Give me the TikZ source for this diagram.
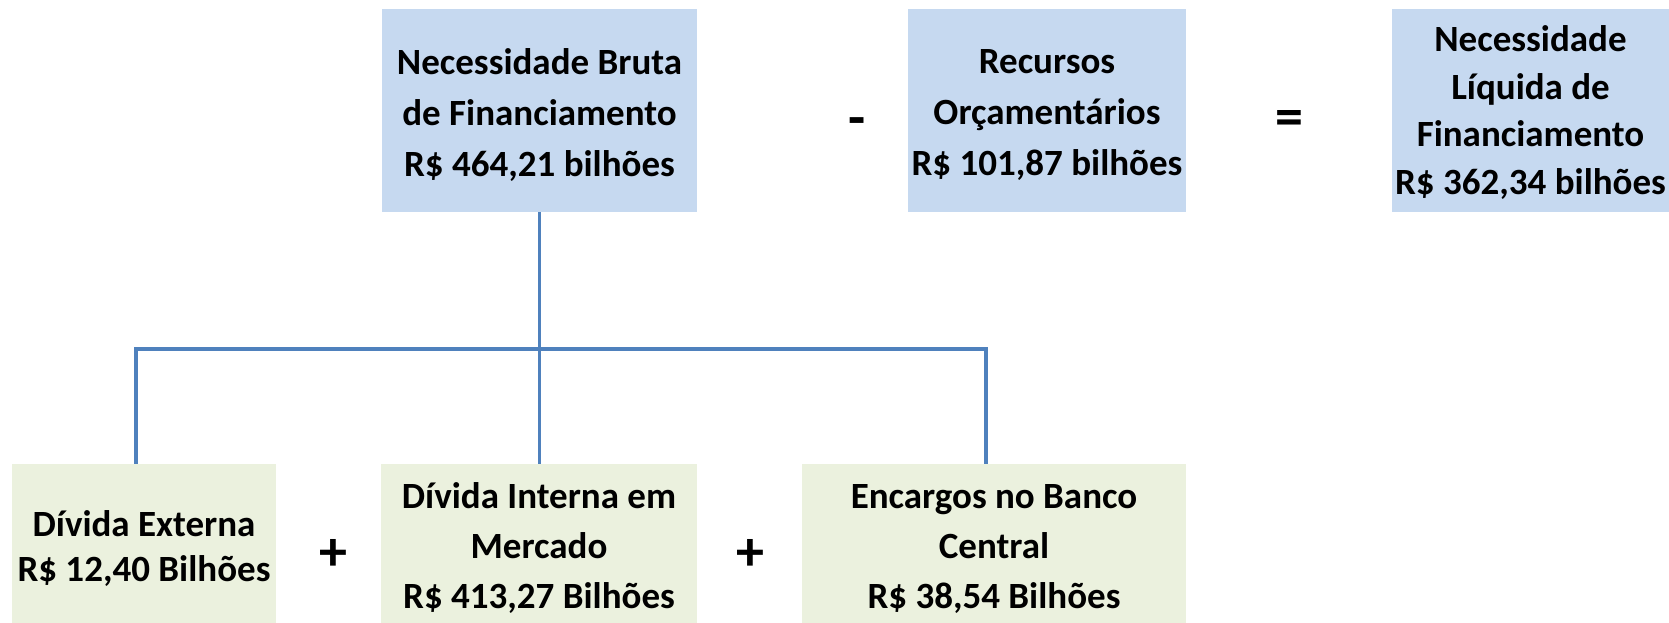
\documentclass[tikz,border=0pt]{standalone}
\usepackage{fontspec}
\setmainfont{Carlito}
\definecolor{bluefill}{HTML}{C6D9F0}
\definecolor{greenfill}{HTML}{EBF1DE}
\definecolor{connblue}{HTML}{4F81BD}
\begin{document}
\begin{tikzpicture}[x=1pt,y=-1pt,
  boxbase/.style={inner sep=0pt, anchor=center},
  bluebox/.style={boxbase, fill=bluefill, minimum height=203pt},
  greenbox/.style={boxbase, fill=greenfill, minimum height=159pt},
  txt/.style={inner sep=0pt, align=center, font=\bfseries\fontsize{37}{#1}\selectfont},
  opsign/.style={inner sep=0pt, font=\bfseries\fontsize{56}{56}\selectfont},
  conn/.style={draw=connblue, line width=3.3pt}]
\useasboundingbox (0,0) rectangle (1669,623);
\node[bluebox, minimum width=315pt] (b1) at (539.5,110.5) {};
\node[bluebox, minimum width=278pt] (b2) at (1047,110.5) {};
\node[bluebox, minimum width=277pt] (b3) at (1530.5,110.5) {};
\node[greenbox, minimum width=264pt] (b4) at (144,543.5) {};
\node[greenbox, minimum width=316pt] (b5) at (539,543.5) {};
\node[greenbox, minimum width=384pt] (b6) at (994,543.5) {};
\node[txt=51] (t1) at ([yshift=-5pt]b1.center) {Necessidade Bruta\\de Financiamento\\R\$ 464,21 bilhões};
\node[txt=51] (t2) at ([yshift=-5pt]b2.center) {Recursos\\Orçamentários\\R\$ 101,87 bilhões};
\node[txt=47.5] (t3) at ([yshift=-2pt]b3.center) {Necessidade\\Líquida de\\Financiamento\\R\$ 362,34 bilhões};
\node[txt=45] (t4) at ([yshift=-5pt]b4.center) {Dívida Externa\\R\$ 12,40 Bilhões};
\node[txt=50] (t5) at ([yshift=-5pt]b5.center) {Dívida Interna em\\Mercado\\R\$ 413,27 Bilhões};
\node[txt=50] (t6) at ([yshift=-5pt]b6.center) {Encargos no Banco\\Central\\R\$ 38,54 Bilhões};
\node[opsign] (minus) at (857,127) {-};
\node[opsign] (eq) at (1289,123) {=};
\node[opsign] (plus1) at (333,555) {+};
\node[opsign] (plus2) at (750,555) {+};
\coordinate (jl) at (136,349);
\coordinate (jr) at (986,349);
\draw[conn] (b1.south) -- (b1.south |- b5.north);
\draw[conn] (b4.north -| jl) -- (jl) -- (jr) -- (b6.north -| jr);
\end{tikzpicture}
\end{document}
